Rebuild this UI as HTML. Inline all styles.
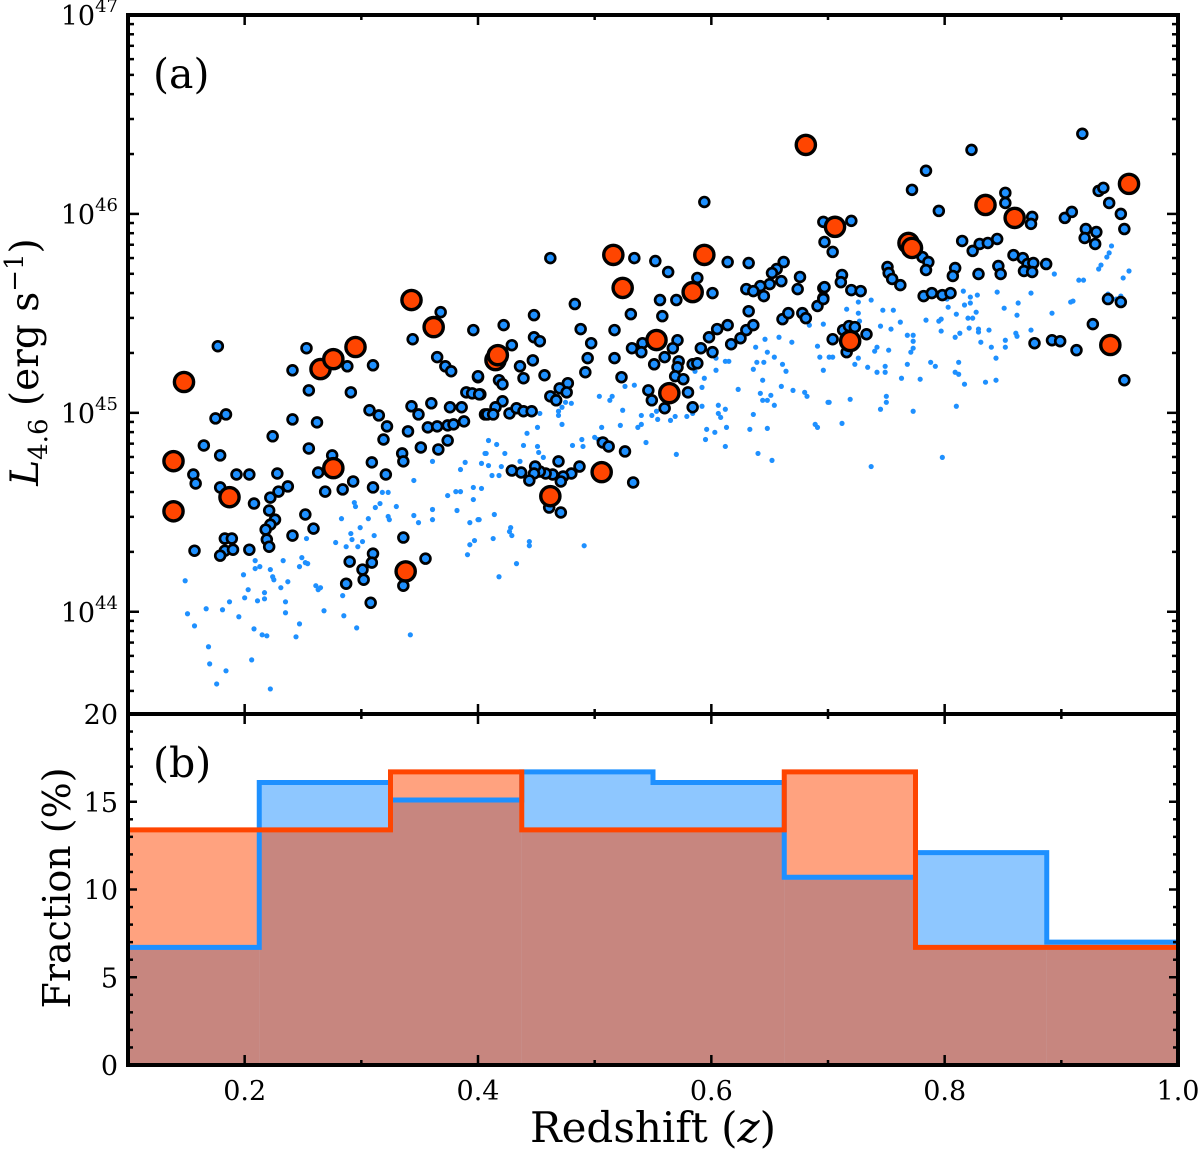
<!DOCTYPE html>
<html><head><meta charset="utf-8"><style>
html,body{margin:0;padding:0;background:#fff;}
svg{display:block;font-family:"DejaVu Serif","Liberation Serif",serif;}
</style></head><body>
<svg id="chart" width="1200" height="1149" viewBox="0 0 1200 1149" xmlns="http://www.w3.org/2000/svg">
<rect width="1200" height="1149" fill="#fff"/>
<g id="hist"></g>
<g id="scatter"></g>
<g id="axes"></g>
<text x="153" y="88" font-size="41">(a)</text>
<text x="153" y="777" font-size="41">(b)</text>
<text x="653" y="1142" font-size="42" text-anchor="middle">Redshift (<tspan font-style="italic">z</tspan>)</text>
<text transform="translate(38,362) rotate(-90)" font-size="39" text-anchor="middle"><tspan font-style="italic">L</tspan><tspan font-size="26" dy="9">4.6</tspan><tspan dy="-9"> (erg s</tspan><tspan font-size="26" dy="-15">−1</tspan><tspan dy="15">)</tspan></text>
<text transform="translate(70,888) rotate(-90)" font-size="38" text-anchor="middle">Fraction (%)</text>
</svg>
<script>
// ---- data ----
const binEdges=[0.1,0.2125,0.325,0.4375,0.55,0.6625,0.775,0.8875,1.0];
const fracBlue=[6.7,16.1,15.1,16.7,16.1,10.7,12.1,7.0];
const fracOrange=[13.4,13.4,16.7,13.4,13.4,16.7,6.7,6.7];
const xTicks=[0.2,0.4,0.6,0.8,1.0];
const xTickLabels=["0.2","0.4","0.6","0.8","1.0"];
const yLogTicks=[44,45,46,47];
const fracTicks=[0,5,10,15,20];
const orangeZ=[.139,.139,.148,.187,.265,.276,.276,.295,.338,.343,.362,.415,.417,.462,.506,.516,.524,.553,.564,.584,.594,.681,.706,.719,.769,.772,.835,.860,.942,.958];
const orangeL=[44.757,44.505,45.155,44.576,45.22,45.27,44.722,45.331,44.203,45.567,45.431,45.265,45.29,44.581,44.702,45.794,45.628,45.366,45.099,45.607,45.794,46.347,45.935,45.361,45.854,45.829,46.045,45.98,45.341,46.151];
const edgedZ=[.177,.184,.175,.165,.179,.156,.158,.179,.157,.183,.189,.183,.190,.179,.193,.204,.208,.204,.224,.228,.237,.229,.222,.221,.226,.222,.218,.219,.221,.241,.241,.253,.255,.262,.255,.263,.269,.284,.293,.275,.252,.259,.241,.288,.291,.310,.307,.315,.322,.319,.309,.310,.321,.290,.301,.302,.287,.310,.309,.308,.336,.336,.355,.368,.344,.396,.365,.372,.377,.400,.390,.402,.343,.349,.360,.376,.386,.357,.365,.374,.379,.388,.406,.340,.351,.366,.374,.335,.336,
.594,.462,.534,.552,.563,.588,.601,.614,.632,.662,.656,.652,.676,.660,.650,.642,.630,.636,.645,.674,.696,.696,.691,.697,.696,.556,.570,.558,.531,.483,.448,.422,.488,.517,.448,.453,.497,.429,.494,.517,.447,.436,.492,.457,.400,.439,.418,.421,.395,.401,.477,.470,.476,.462,.467,.421,.415,.408,.413,.427,.433,.439,.446,.523,.532,.541,.540,.571,.567,.560,.551,.572,.571,.584,.588,.569,.576,.546,.549,.580,.560,.584,.591,.601,.598,.605,.614,.617,.625,.630,.636,.632,.661,.666,.678,.681,.507,.512,.526,.469,.487,.480,.473,.471,.464,.458,.453,.449,.448,.444,.437,.429,.533,.471,.461,
.918,.823,.784,.772,.795,.852,.852,.875,.874,.720,.704,.815,.824,.830,.837,.845,.781,.786,.784,.751,.752,.755,.762,.809,.807,.829,.846,.848,.859,.867,.871,.876,.868,.875,.887,.712,.711,.697,.696,.720,.728,.782,.789,.798,.805,.903,.909,.932,.936,.941,.951,.954,.921,.920,.930,.929,.940,.951,.927,.877,.892,.899,.913,.954,.704,.713,.718,.723,.733,.716];
const edgedL=[45.335,44.992,44.972,44.836,44.786,44.690,44.645,44.625,44.307,44.368,44.368,44.307,44.312,44.282,44.690,44.690,44.544,44.312,44.882,44.695,44.630,44.604,44.574,44.509,44.463,44.438,44.413,44.363,44.327,45.214,44.967,45.325,45.113,44.952,44.821,44.700,44.604,44.615,44.655,44.786,44.489,44.418,44.383,45.234,45.103,45.239,45.013,44.987,44.932,44.866,44.751,44.625,44.690,44.252,44.212,44.161,44.141,44.292,44.247,44.045,44.373,44.131,44.267,45.506,45.370,45.416,45.280,45.234,45.209,45.179,45.103,45.093,45.033,44.992,45.048,45.028,45.028,44.927,44.932,44.937,44.942,44.957,44.992,44.907,44.826,44.816,44.861,44.796,44.756,
46.060,45.778,45.778,45.763,45.708,45.678,45.602,45.758,45.753,45.758,45.723,45.703,45.683,45.662,45.647,45.637,45.622,45.612,45.587,45.622,45.627,45.577,45.537,45.859,45.960,45.567,45.567,45.486,45.496,45.547,45.491,45.441,45.421,45.416,45.380,45.360,45.350,45.340,45.275,45.275,45.264,45.234,45.204,45.189,45.184,45.174,45.164,45.144,45.098,45.093,45.149,45.123,45.103,45.083,45.063,45.058,45.028,44.992,44.992,44.997,45.023,45.008,45.008,45.179,45.325,45.350,45.305,45.365,45.325,45.280,45.244,45.259,45.229,45.244,45.249,45.184,45.169,45.113,45.063,45.103,45.023,45.028,45.325,45.305,45.380,45.421,45.441,45.345,45.375,45.416,45.441,45.511,45.471,45.501,45.501,45.476,44.851,44.831,44.806,44.756,44.730,44.695,44.680,44.655,44.690,44.695,44.705,44.730,44.695,44.660,44.700,44.710,44.650,44.499,44.524,
46.403,46.322,46.217,46.121,46.015,46.106,46.055,45.985,45.950,45.965,45.809,45.864,45.814,45.849,45.854,45.874,45.783,45.758,45.718,45.733,45.703,45.673,45.642,45.728,45.688,45.698,45.738,45.698,45.793,45.778,45.748,45.753,45.713,45.708,45.748,45.693,45.657,45.632,45.572,45.617,45.612,45.587,45.602,45.592,45.602,45.980,46.010,46.116,46.131,46.055,46.000,45.924,45.924,45.879,45.909,45.849,45.572,45.557,45.446,45.350,45.365,45.360,45.315,45.164,45.370,45.416,45.436,45.431,45.395,45.305];
const dotZ=[.149,.151,.157,.167,.169,.170,.176,.184,.181,.187,.195,.199,.200,.203,.206,.208,.209,.209,.213,.211,.217,.217,.215,.219,.222,.222,.224,.225,.231,.233,.235,.235,.237,.244,.247,.247,.249,.252,.254,.253,.261,.263,.265,.268,.278,.283,.284,.285,.287,.291,.292,.294,.295,.297,.299,.301,.296,.306,.311,.312,.316,.318,.323,.323,.324,.330,.342,.345,.345,.349,.361,.361,.361,.374,.382,.381,.385,.385,.389,.393,.396,.396,.397,.393,.391,.400,.403,.403,.407,
.409,.416,.406,.423,.409,.420,.412,.418,.401,.414,.428,.427,.429,.413,.444,.444,.433,.418,.491,.436,.439,.451,.452,.456,.442,.451,.453,.469,.469,.472,.472,.475,.480,.481,.489,.490,.500,.503,.506,.504,.513,.515,.524,.522,.526,.534,.537,.540,.540,.544,.549,.553,.554,.565,.570,.569,.579,.584,.586,.592,.594,.592,.596,.595,.604,.604,.603,.606,.606,.608,.612,.612,.613,.612,.615,.623,.633,.636,.640,.636,.639,.645,.644,.642,.644,.648,.651,.654,.648,.652,.638,.646,.648,.654,.658,.661,.664,.669,.660,.670,.680,.682,.691,.693,.696,.700,.689,.691,.684,.696,
.701,.704,.701,.712,.719,.723,.726,.734,.727,.726,.726,.737,.716,.740,.742,.742,.745,.749,.749,.750,.750,.745,.747,.754,.756,.752,.762,.763,.768,.768,.773,.773,.773,.771,.773,.779,.784,.788,.792,.797,.795,.797,.798,.802,.803,.810,.809,.809,.812,.812,.810,.813,.817,.817,.816,.820,.821,.822,.822,.824,.827,.828,.829,.829,.831,.835,.838,.840,.844,.844,.845,.851,.852,.852,.862,.863,.861,.862,.874,.874,.894,.892,.908,.910,.915,.919,.932,.934,.939,.941,.943,.940,.947,.951,.953,.958,.737];
const dotL=[44.156,43.990,43.929,44.015,43.824,43.738,43.637,43.703,44.010,44.050,43.975,44.186,44.070,44.111,43.758,43.914,44.217,44.257,44.227,44.055,44.096,44.065,43.884,43.879,43.612,44.212,44.176,44.161,44.121,44.257,44.050,43.995,44.151,43.874,43.939,44.227,44.272,44.247,44.242,44.368,44.131,44.111,44.121,44.005,44.348,44.468,44.081,43.980,44.327,44.393,44.363,44.549,44.529,44.327,44.423,44.353,43.919,44.468,44.383,44.524,44.544,44.600,44.600,44.479,44.463,44.529,43.884,44.484,44.660,44.448,44.756,44.514,44.463,44.584,44.509,44.604,44.604,44.715,44.751,44.448,44.564,44.625,44.358,44.337,44.287,44.463,44.620,44.746,44.796,
44.861,44.841,44.796,44.796,44.735,44.730,44.685,44.685,44.463,44.489,44.423,44.403,44.383,44.368,44.353,44.332,44.242,44.176,44.332,44.756,44.836,44.831,44.801,44.776,44.897,44.927,44.997,45.008,44.987,44.942,45.028,45.053,45.048,44.836,44.866,44.831,44.877,44.866,44.927,45.083,45.063,45.083,45.013,44.937,45.133,45.139,44.927,44.942,44.987,44.851,44.987,45.008,44.967,44.962,44.791,44.982,44.982,44.997,45.209,45.128,45.174,45.033,44.917,44.866,45.214,45.275,44.902,45.038,44.997,44.977,45.018,44.831,44.927,45.259,45.259,45.118,44.917,44.992,44.796,45.219,45.254,45.254,45.164,45.098,45.063,45.063,45.088,45.038,44.922,44.761,45.330,45.370,45.305,45.280,45.380,45.244,45.209,45.355,45.133,45.113,45.103,45.083,45.335,45.280,45.214,45.053,44.942,44.927,45.441,45.446,
45.280,45.280,45.053,44.947,45.068,45.244,45.275,45.229,45.461,45.557,45.501,45.567,45.521,45.310,45.330,45.204,45.018,45.234,45.204,45.083,45.053,45.436,45.516,45.421,45.516,45.315,45.456,45.174,45.244,45.390,45.390,45.360,45.325,45.305,45.008,45.169,45.466,45.254,45.234,45.411,45.461,45.471,44.776,45.572,45.531,45.496,45.380,45.204,45.254,45.194,45.033,45.400,45.542,45.144,45.612,45.476,45.426,45.582,45.552,45.476,45.506,45.592,45.421,45.406,45.355,45.154,45.416,45.330,45.164,45.275,45.607,45.526,45.365,45.330,45.491,45.552,45.400,45.385,45.602,45.416,45.698,45.501,45.557,45.562,45.667,45.667,45.723,45.743,45.783,45.804,45.839,45.597,45.572,45.587,45.678,45.713,44.730];

// ---- scales ----
const X0=128,X1=1178,TOP=15,MID=714,BOT=1065;
const logMin=43.486,logMax=47;
const xs=z=>X0+(z-0.1)/(1.0-0.1)*(X1-X0);
const ysL=l=>MID-(l-logMin)/(logMax-logMin)*(MID-TOP);
const ysF=f=>BOT-f/20*(BOT-MID);
const NS="http://www.w3.org/2000/svg";
function mk(tag,attrs,parent){const e=document.createElementNS(NS,tag);for(const k in attrs)e.setAttribute(k,attrs[k]);parent.appendChild(e);return e;}

// ---- histogram ----
const hist=document.getElementById('hist');
function stepPath(vals){let d='M'+xs(binEdges[0])+','+ysF(vals[0]);for(let i=0;i<vals.length;i++){d+=' L'+xs(binEdges[i])+','+ysF(vals[i])+' L'+xs(binEdges[i+1])+','+ysF(vals[i]);if(i<vals.length-1)d+=' L'+xs(binEdges[i+1])+','+ysF(vals[i+1]);}return d;}
function drawHist(vals,color,name){
  for(let i=0;i<vals.length;i++){
    const r=mk('rect',{x:xs(binEdges[i]),y:ysF(vals[i]),width:xs(binEdges[i+1])-xs(binEdges[i]),height:ysF(0)-ysF(vals[i]),fill:color,'fill-opacity':0.5},hist);
    
    
  }
}
drawHist(fracBlue,'#1e90ff','blue-hist');
drawHist(fracOrange,'#ff4500','orange-hist');
const pb=mk('path',{d:stepPath(fracBlue),fill:'none',stroke:'#1e90ff','stroke-width':5},hist);


const po=mk('path',{d:stepPath(fracOrange),fill:'none',stroke:'#ff4500','stroke-width':5},hist);



// ---- scatter ----
const sc=document.getElementById('scatter');
for(let i=0;i<dotZ.length;i++){
  const c=mk('circle',{cx:xs(dotZ[i]),cy:ysL(dotL[i]),r:2.6,fill:'#1e90ff'},sc);
  
  
}
for(let i=0;i<edgedZ.length;i++){
  const c=mk('circle',{cx:xs(edgedZ[i]),cy:ysL(edgedL[i]),r:4.9,fill:'#1e90ff',stroke:'#000','stroke-width':2.7},sc);
  
  
}
for(let i=0;i<orangeZ.length;i++){
  const c=mk('circle',{cx:xs(orangeZ[i]),cy:ysL(orangeL[i]),r:9.6,fill:'#ff4500',stroke:'#000','stroke-width':3.4},sc);
  
  
}

// ---- axes ----
const ax=document.getElementById('axes');
function line(x1,y1,x2,y2,w,name){const l=mk('line',{x1:x1,y1:y1,x2:x2,y2:y2,stroke:'#000','stroke-width':w},ax);return l;}
for(let k=1;k<=10;k++){
  const z=k/10; const x=xs(z); const major=(k%2===0);
  const L=major?10:5;
  if(z<=0.1||z>=1.0)continue;
  line(x,TOP,x,TOP+L,2.5,'x-tick-top');
  line(x,MID,x,MID-L,2.5,'x-tick-mid-up');
  line(x,MID,x,MID+L,2.5,'x-tick-mid-down');
  line(x,BOT,x,BOT-L,2.5,'x-tick-bottom');
}
for(let i=0;i<xTicks.length;i++){
  const t=mk('text',{x:xs(xTicks[i]),y:1100,'font-size':27,'text-anchor':'middle'},ax);
  t.textContent=xTickLabels[i];
  
  
}
for(let d=43;d<=46;d++){
  for(let m=1;m<=9;m++){
    const l=d+Math.log10(m); if(l<logMin||l>logMax)continue;
    const y=ysL(l); const L=m===1?11:6;
    line(X0,y,X0+L,y,2.5,'y-tick-left');
    line(X1,y,X1-L,y,2.5,'y-tick-right');
  }
}
for(let i=0;i<yLogTicks.length;i++){
  const y=ysL(yLogTicks[i]);
  const t=mk('text',{x:118,y:y+10,'font-size':27,'text-anchor':'end'},ax);
  
  
  const a=document.createElementNS(NS,'tspan');a.textContent='10';t.appendChild(a);
  const b=document.createElementNS(NS,'tspan');b.setAttribute('font-size','18');b.setAttribute('dy','-13');b.textContent=String(yLogTicks[i]);t.appendChild(b);
}
for(let f=0;f<=20;f++){
  const y=ysF(f); const L=(f%5===0)?9:5;
  if(f===0||f===20)continue;
  line(X0,y,X0+L,y,2.5,'frac-tick-left');
  line(X1,y,X1-L,y,2.5,'frac-tick-right');
}
for(let i=0;i<fracTicks.length;i++){
  const t=mk('text',{x:118,y:ysF(fracTicks[i])+10,'font-size':27,'text-anchor':'end'},ax);
  t.textContent=String(fracTicks[i]);
  
  
}
const f1=mk('rect',{x:X0,y:TOP,width:X1-X0,height:MID-TOP,fill:'none',stroke:'#000','stroke-width':4},ax);


const f2=mk('rect',{x:X0,y:MID,width:X1-X0,height:BOT-MID,fill:'none',stroke:'#000','stroke-width':4},ax);


</script>
</body></html>
